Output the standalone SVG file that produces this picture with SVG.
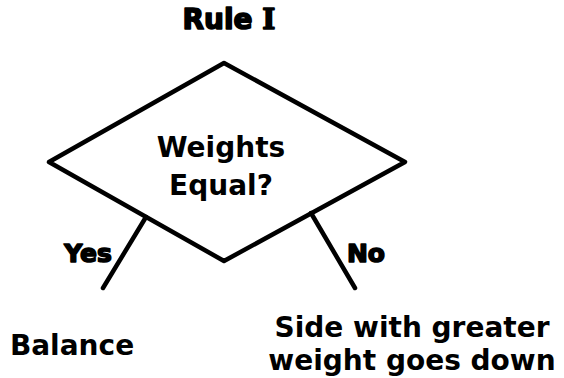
<svg xmlns="http://www.w3.org/2000/svg" width="564" height="378" viewBox="0 0 564 378">
<style>
.t{font-family:"DejaVu Sans","Verdana",sans-serif;font-weight:bold;font-size:28px;fill:#000;text-anchor:middle}
.h{font-family:"DejaVu Sans",sans-serif;font-weight:bold;fill:#000;stroke:#000;stroke-width:1.6;stroke-linejoin:round}
.e{fill:none;stroke:#000;stroke-width:4.5;stroke-linecap:round;stroke-linejoin:round}
</style>
<rect width="564" height="378" fill="#fff"/>
<g id="title"><text class="h" x="229" y="29" font-size="28" text-anchor="middle">Rule <tspan font-family="DejaVu Serif">I</tspan></text></g>
<g id="decision">
<polygon class="e" points="224,63 405,162 224,261 49,162"/>
<text class="t" x="221" y="157">Weights</text>
<text class="t" x="221" y="195">Equal?</text>
</g>
<g id="connectors">
<line class="e" x1="146" y1="217" x2="103" y2="288"/>
<line class="e" x1="311" y1="213" x2="355" y2="288"/>
<text class="h" x="88" y="262" font-size="25" text-anchor="middle">Yes</text>
<text class="h" x="366" y="262" font-size="25" text-anchor="middle">No</text>
</g>
<g id="balance"><text class="t" x="72" y="355">Balance</text></g>
<g id="down">
<text class="t" x="412" y="337">Side with greater</text>
<text class="t" x="412" y="370">weight goes down</text>
</g>
</svg>
